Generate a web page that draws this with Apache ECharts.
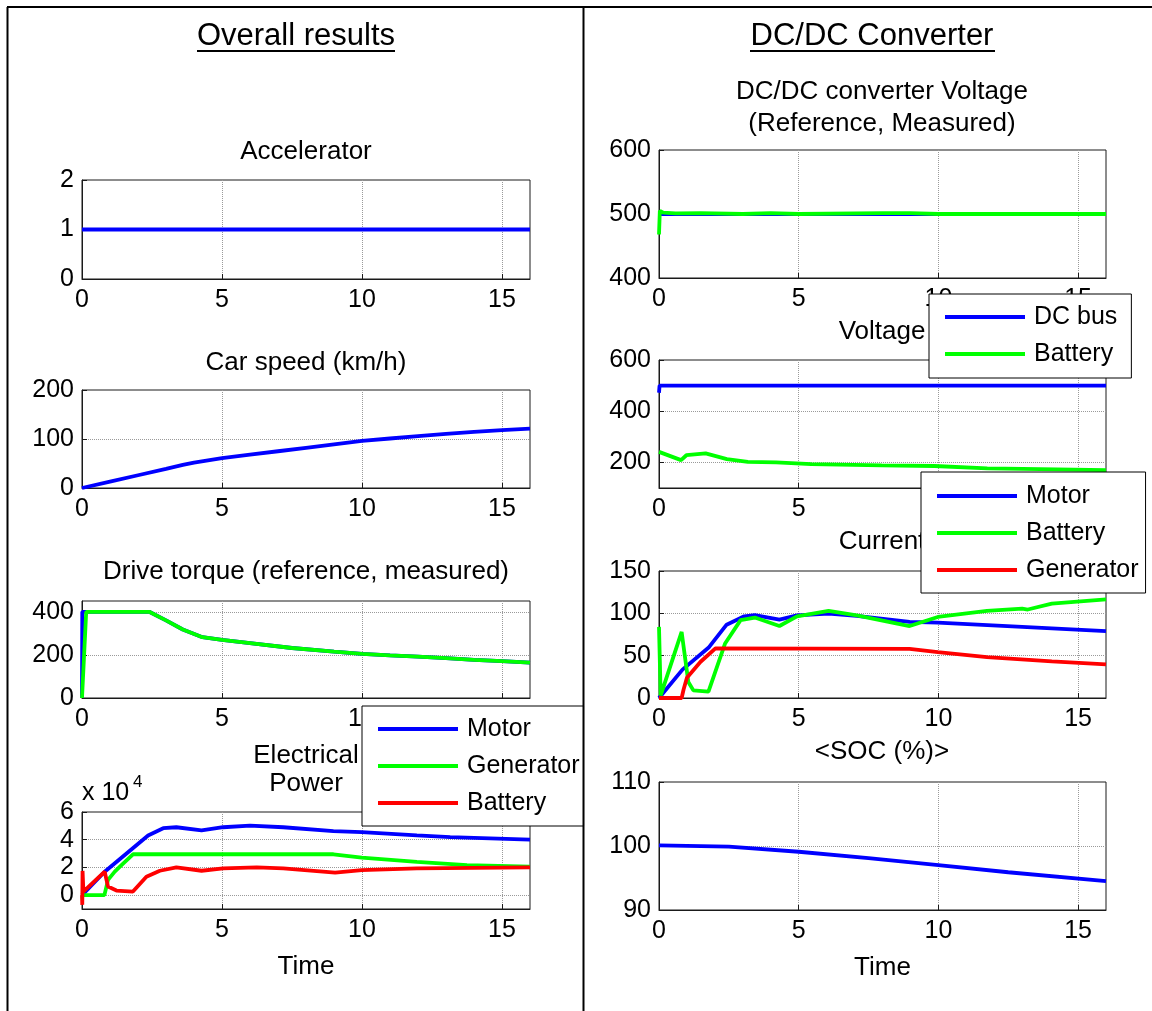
<!DOCTYPE html>
<html><head><meta charset="utf-8">
<script src="https://cdn.jsdelivr.net/npm/echarts@6/dist/echarts.min.js"></script>
<style>html,body{margin:0;padding:0;background:#fff}#c{width:1152px;height:1011px}</style>
</head><body><div id="c"></div>
<script>
// ---------------- DATA (time in s, [t, value]) ----------------
const accelerator = [[0,1],[16,1]];
const carSpeed = [[0,0],[1,13],[2,26],[3,39],[3.6,47],[4,52],[5,61],[6,68],[7,75],[8,82],[9,89],[10,96],[11,101],[12,106],[13,110.5],[14,114.5],[15,118],[16,121]];
const torqueRef = [[0,0],[0.01,400],[2.4,400],[3,360],[3.6,318],[4.3,282],[5,270],[6,255],[7.5,232],[9,215],[10,205],[11,198],[12,192],[13,185],[14,177],[15,171],[16,164]];
const torqueMeas = [[0,0],[0.03,0],[0.15,400],[2.4,400],[3,360],[3.6,318],[4.3,282],[5,270],[6,255],[7.5,232],[9,215],[10,205],[11,198],[12,192],[13,185],[14,177],[15,171],[16,164]];
const powerMotor = [[0,0],[0.81,16900],[2.36,43100],[2.9,48300],[3.37,49000],[4.27,46700],[5.04,49000],[6.0,50200],[7.19,49000],[8.98,46200],[9.99,45500],[11.96,43100],[13.15,41900],[16,40000]];
const powerGenerator = [[0,0],[0.8,0],[0.93,11000],[1.17,17000],[1.41,21700],[1.82,29500],[8.98,29500],[9.99,27100],[11.96,24000],[13.75,21700],[16,20500]];
const powerBattery = [[0,0],[0.01,-7000],[0.02,17500],[0.05,2500],[0.1,3800],[0.81,16900],[0.93,6200],[1.23,3300],[1.82,2600],[2.3,13300],[2.78,17600],[3.37,20000],[4.27,17600],[5.04,19300],[6.24,20000],[7.19,19300],[9.04,16200],[9.99,18100],[11.96,19300],[16,20000]];
const dcRef = [[0,500],[16,500]];
const dcMeas = [[0,468],[0.03,505],[0.15,502],[0.6,501],[1.5,501.5],[3,500],[4,501.5],[5,500],[8,501.5],[9,501.5],[10,500],[16,500]];
const voltBus = [[0,472],[0.02,500],[0.8,500],[0.85,505],[0.9,500],[16,500]];
const voltBattery = [[0,241],[0.79,209],[0.98,228],[1.67,235],[2.43,213],[3.18,202],[4.19,200],[5.45,193],[7.97,188],[9.86,186],[11.75,177],[14.27,173],[16,170]];
const currMotor = [[0,0],[0.84,33.5],[1.79,60],[2.42,86.6],[3.05,96.5],[3.43,98],[4.31,92.5],[4.94,97.6],[6.07,99.6],[7.08,96.9],[8.97,89.8],[9.98,89],[13.0,83.9],[16,79]];
const currBattery = [[0,84],[0.06,3],[0.81,78],[1.05,19],[1.23,9],[1.77,7.5],[2.36,64],[2.92,92],[3.43,95],[4.31,85],[4.94,96.5],[6.07,102.8],[7.08,97.6],[8.97,85],[9.98,95.7],[11.74,102.8],[13.0,105.5],[13.2,104.5],[14.06,111.4],[16,116.5]];
const currGenerator = [[0,0],[0.81,0],[0.88,10],[1.0,24],[1.48,42.5],[2.02,58.7],[8.97,58],[9.98,54.3],[11.74,48.4],[14.06,43.3],[16,39.8]];
const soc = [[0,100.1],[2.5,99.9],[5,99.1],[7.5,98.1],[10,97.0],[12.5,95.9],[16,94.5]];

const headings = ['Overall results','DC/DC Converter'];
const plotTitles = ['Accelerator','Car speed (km/h)','Drive torque (reference, measured)','Electrical\nPower',
  'DC/DC converter Voltage\n(Reference, Measured)','Voltage','Current','<SOC (%)>'];
const xLabelName = 'Time';
const powerExponent = ['x 10','4'];

// ---------------- STYLE / LAYOUT ----------------
const FONT = "'Liberation Sans', Arial, Helvetica, sans-serif";
const BLUE='#0000ff', GREEN='#00ff00', RED='#ff0000';
const L = {left:82, width:448}, R = {left:659, width:447};
const gridPos = [
  {...L, top:180, height:99}, {...L, top:390, height:98}, {...L, top:601, height:97}, {...L, top:812, height:97},
  {...R, top:150, height:128}, {...R, top:360, height:128}, {...R, top:571, height:127}, {...R, top:782, height:128}
];
const yCfg = [
  {min:0,max:2,interval:1},
  {min:0,max:200,interval:100},
  {min:0,max:450,interval:200},
  {min:-10000,max:60000,minInterval:20000,maxInterval:20000,hideMin:true,fmt:v=>String(Math.round(v/1e4))},
  {min:400,max:600,interval:100},
  {min:100,max:600,minInterval:200,maxInterval:200,hideMin:true},
  {min:0,max:150,interval:50},
  {min:90,max:110,interval:10}
];
const titleCenters = [[306,152],[306,363],[306,572],[306,770],[882,108],[882,332],[882,542],[882,752]];

const seriesDefs = [
  [0,'Accelerator',accelerator,BLUE],
  [1,'Car speed',carSpeed,BLUE],
  [2,'Torque reference',torqueRef,BLUE],
  [2,'Torque measured',torqueMeas,GREEN],
  [3,'Motor',powerMotor,BLUE],
  [3,'Generator',powerGenerator,GREEN],
  [3,'Battery',powerBattery,RED],
  [4,'Voltage reference',dcRef,BLUE],
  [4,'Voltage measured',dcMeas,GREEN],
  [5,'DC bus',voltBus,BLUE],
  [5,'Battery',voltBattery,GREEN],
  [6,'Motor',currMotor,BLUE],
  [6,'Battery',currBattery,GREEN],
  [6,'Generator',currGenerator,RED],
  [7,'SOC',soc,BLUE]
];

const txt = (size)=>({fontFamily:FONT,fontSize:size,color:'#000',fontWeight:'normal'});

const grids = gridPos.map(p=>({...p, show:true, borderColor:'#1a1a1a', borderWidth:1, backgroundColor:'transparent', containLabel:false, outerBoundsMode:'none'}));
const split = {show:true, showMinLine:false, showMaxLine:false, lineStyle:{color:'#9a9a9a', type:'dotted', width:1}};
const xAxes = gridPos.map((p,i)=>({
  type:'value', gridIndex:i, min:0, max:16, interval:5,
  axisLine:{show:true, onZero:false, lineStyle:{color:'#1a1a1a', width:1}},
  axisTick:{show:true, inside:true, length:5, lineStyle:{color:'#1a1a1a'}},
  axisLabel:{show:true, margin:9, ...txt(25), showMaxLabel:false, hideOverlap:false},
  splitLine:split,
  name:(i===3||i===7)?xLabelName:'', nameLocation:'middle', nameGap:45, nameTextStyle:txt(26)
}));
const yAxes = yCfg.map((c,i)=>{
  const a = {type:'value', gridIndex:i, min:c.min, max:c.max,
    axisLine:{show:true, onZero:false, lineStyle:{color:'#1a1a1a', width:1}},
    axisTick:{show:true, inside:true, length:5, lineStyle:{color:'#1a1a1a'}},
    axisLabel:{show:true, margin:8, ...txt(25), showMaxLabel:(c.interval===undefined || c.max % c.interval===0), showMinLabel:!c.hideMin, hideOverlap:false},
    splitLine:split};
  if (c.interval!==undefined) a.interval=c.interval; else {a.minInterval=c.minInterval; a.maxInterval=c.maxInterval; a.splitNumber=3;}
  if (c.fmt) a.axisLabel.formatter=c.fmt;
  return a;
});

const titles = [
  {text:headings[0], left:296, top:36, textAlign:'center', textVerticalAlign:'middle', padding:0, textStyle:txt(31)},
  {text:headings[1], left:872, top:36, textAlign:'center', textVerticalAlign:'middle', padding:0, textStyle:txt(31)},
  ...plotTitles.map((t,i)=>({text:t, left:titleCenters[i][0], top:titleCenters[i][1], textAlign:'center', textVerticalAlign:'middle', padding:0,
      textStyle:{...txt(26), lineHeight:(i===3?28:32)}})),
  {text:powerExponent[0], left:82, top:793, textAlign:'left', textVerticalAlign:'middle', padding:0, textStyle:txt(25)},
  {text:powerExponent[1], left:133, top:782, textAlign:'left', textVerticalAlign:'middle', padding:0, textStyle:txt(17)}
];

function legend(left, top, pad, items){
  return {show:true, orient:'vertical', left, top, padding:pad, itemGap:9, itemWidth:80, itemHeight:4, icon:'rect',
    backgroundColor:'#fff', borderColor:'#000', borderWidth:1, borderRadius:0, selectedMode:false, z:10,
    textStyle:{fontFamily:FONT, fontSize:25, color:'#000', lineHeight:28, padding:[0,0,0,4]},
    data:items.map(([n,c])=>({name:n, icon:'rect', itemStyle:{color:c, borderColor:c, borderWidth:0}}))};
}
const legends = [
  legend(362, 706, [9,4,9,16], [['Motor',BLUE],['Generator',GREEN],['Battery',RED]]),
  legend(929, 294, [9,14,10,16], [['DC bus',BLUE],['Battery',GREEN]]),
  legend(921, 472, [10,7,9,16], [['Motor',BLUE],['Battery',GREEN],['Generator',RED]])
];

const series = seriesDefs.map(([g,name,data,color])=>({
  type:'line', name, xAxisIndex:g, yAxisIndex:g, data, color, showSymbol:false, symbol:'none',
  lineStyle:{color, width:3.8}, itemStyle:{color}, animation:false, z:2, clip:true
}));

const line = (x1,y1,x2,y2,w)=>({type:'line', shape:{x1,y1,x2,y2}, style:{stroke:'#000', lineWidth:w}, z:100, silent:true});
const graphic = [
  line(7,7,1152,7,2), line(7.5,7,7.5,1011,2), line(583.5,7,583.5,1011,2),
  line(197,51,395,51,2), line(750,51,995,51,2)
];

const chart = echarts.init(document.getElementById('c'), null, {renderer:'canvas'});
chart.setOption({
  animation:false, backgroundColor:'#fff',
  title:titles, legend:legends, grid:grids, xAxis:xAxes, yAxis:yAxes, series, graphic
});
</script></body></html>
